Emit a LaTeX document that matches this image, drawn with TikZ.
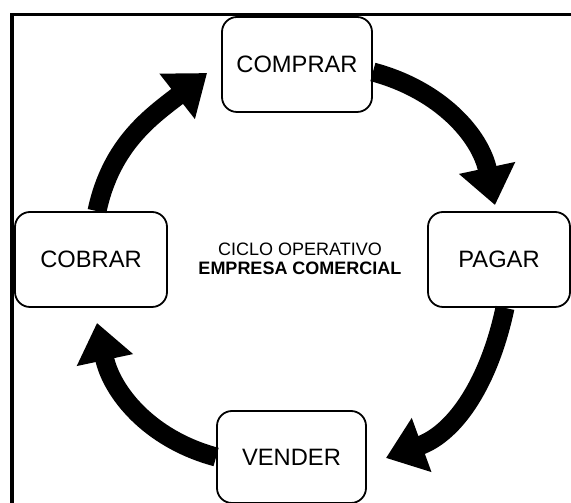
\documentclass[tikz,border=0pt]{standalone}
\usepackage{fontspec}
\setmainfont{Liberation Sans}
\usetikzlibrary{arrows.meta,positioning,calc}

\begin{document}
\begin{tikzpicture}[x=1pt, y=1pt,
            caja/.style={draw, line width=1.8pt, rounded corners=15pt, align=center,
                         minimum height=95pt, inner sep=0pt,
                         font=\fontsize{23.7}{26}\selectfont},
            flecha/.style={line width=19pt, -{Triangle[length=38pt,width=55pt]}}]
        \useasboundingbox (0,0) rectangle (571,503);
        \draw[line width=3.5pt] (571,488.5) -- (12,488.5) -- (12,-2);
        \node[caja, minimum width=150pt] (comprar) at (297,438.5) {COMPRAR};
        \node[caja, minimum width=152pt] (cobrar) at (91,243.5) {COBRAR};
        \node[caja, minimum width=142pt] (pagar) at (499,243.5) {PAGAR};
        \node[caja, minimum width=149pt, minimum height=92pt] (vender) at (291.5,46) {VENDER};
        \node[font=\fontsize{18}{19}\selectfont, anchor=base] (ciclo) at (300,247) {CICLO OPERATIVO};
        \node[font=\fontsize{18}{19}\selectfont\bfseries, anchor=base] (empresa)
              at ([yshift=-19pt]ciclo.base) {EMPRESA COMERCIAL};
        \draw[flecha] ([xshift=6pt]cobrar.north) to[out=78, in=218]
              ([xshift=-14pt, yshift=-8.5pt]comprar.west);
        \draw[flecha] ([yshift=-7.5pt]comprar.east) to[out=-15, in=102]
              ([xshift=-4pt, yshift=6pt]pagar.north);
        \draw[flecha] ([xshift=6pt]pagar.south) to[out=258, in=20]
              ([xshift=19pt, yshift=-1pt]vender.east);
        \draw[flecha] (vender.west) to[out=165, in=282]
              ([xshift=6pt, yshift=-15pt]cobrar.south);
\end{tikzpicture}
\end{document}
